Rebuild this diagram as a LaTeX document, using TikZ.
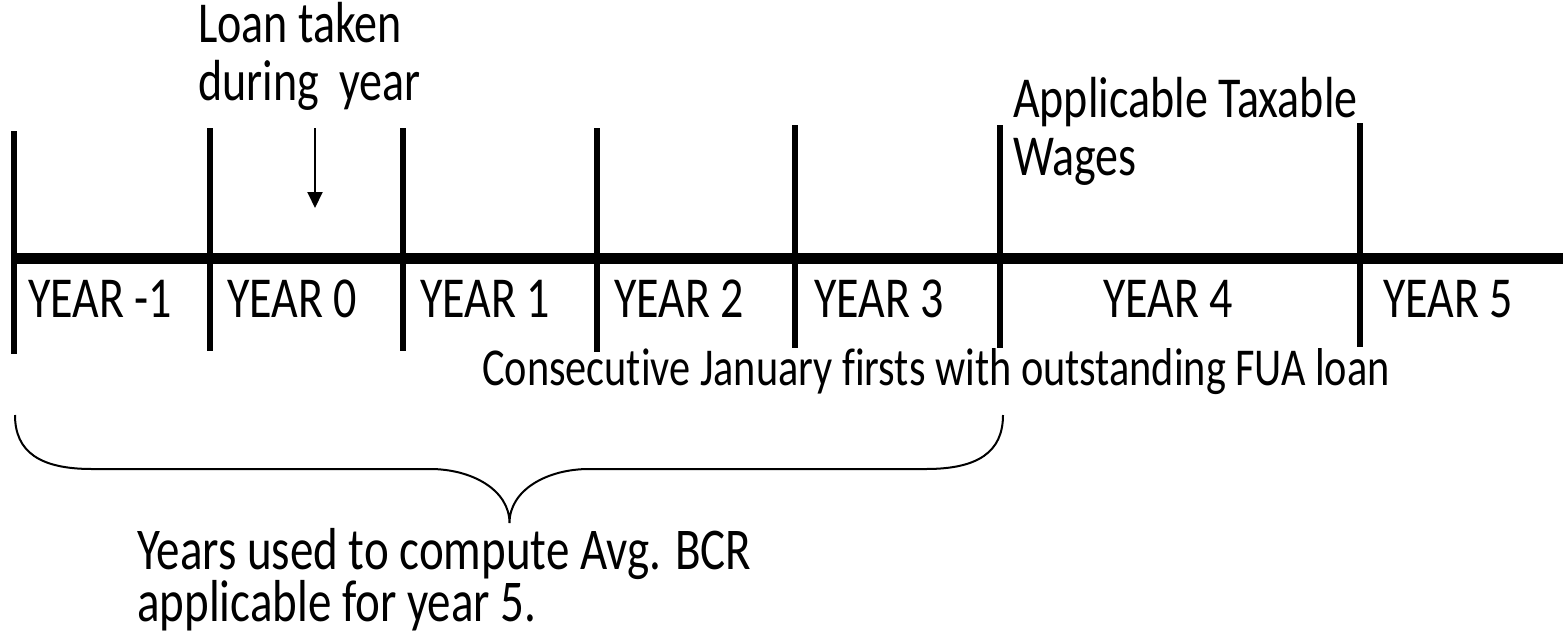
\documentclass[tikz,border=0pt]{standalone}
\usepackage{fontspec}
\setmainfont{Carlito}[Ligatures=NoCommon]
\usetikzlibrary{arrows.meta}

\tikzset{
  axis/.style={line width=11pt},
  tick/.style={line width=5.5pt},
  pointer/.style={line width=2pt,-{Triangle[width=15pt,length=16pt]}},
  brace/.style={line width=2pt},
  % text is set slightly taller than wide; multi-line labels sit on their last baseline
  lbl/.style={anchor=base west,inner sep=0pt,yscale=1.26,
              font=\fontsize{46}{46}\selectfont},
}

\begin{document}
\begin{tikzpicture}[x=1pt,y=-1pt]
\useasboundingbox (0,0) rectangle (1563,635);

% time axis
\coordinate (axL) at (14,258.5);
\coordinate (axR) at (1563,258.5);
\draw[axis] (axL) -- (axR);

% year boundaries
\foreach \n/\x/\t/\b in {a/14/131/354, b/210/128/351, c/403/128/351, d/597/128/352,
                         e/795/125/348, f/1000/125/348, g/1360/123/347} {
  \coordinate (\n top) at (\x,\t);
  \coordinate (\n bot) at (\x,\b);
  \draw[tick] (\n top) -- (\n bot);
}

% year labels
\node[lbl] (y-1) at (28,317)   {YEAR -1};
\node[lbl] (y0)  at (227,317)  {YEAR 0};
\node[lbl] (y1)  at (420,317)  {YEAR 1};
\node[lbl] (y2)  at (614,317)  {YEAR 2};
\node[lbl] (y3)  at (814,317)  {YEAR 3};
\node[lbl] (y4)  at (1103,317) {YEAR 4};
\node[lbl] (y5)  at (1383,317) {YEAR 5};

% loan marker
\node[lbl,align=left] (loan) at (198,100) {Loan taken\\during\ \ year};
\coordinate (loanA) at (315,128);
\coordinate (loanB) at (315,208);
\draw[pointer] (loanA) -- (loanB);

% wages note
\node[lbl,align=left] (wages) at (1013,175) {Applicable Taxable\\Wages};

% consecutive january firsts
\node[lbl,font=\fontsize{42.3}{42}\selectfont] (jan) at (482,385)
  {Consecutive January firsts with outstanding FUA loan};

% brace under years -1 .. 3
\coordinate (bl) at (15,415);
\coordinate (br) at (1003,415);
\coordinate (bt) at (509.5,523);
\draw[brace] (bl) .. controls (15,452) and (40,469) .. (92,469) -- (430,469)
  .. controls (472,469) and (509.5,490) .. (bt)
  .. controls (509.5,490) and (547,469) .. (589,469) -- (926,469)
  .. controls (978,469) and (1003,452) .. (br);

\node[lbl,align=left,font=\fontsize{47}{41}\selectfont] (avg) at (137,621)
  {Years used to compute Avg. BCR\\applicable for year 5.};
\end{tikzpicture}
\end{document}
